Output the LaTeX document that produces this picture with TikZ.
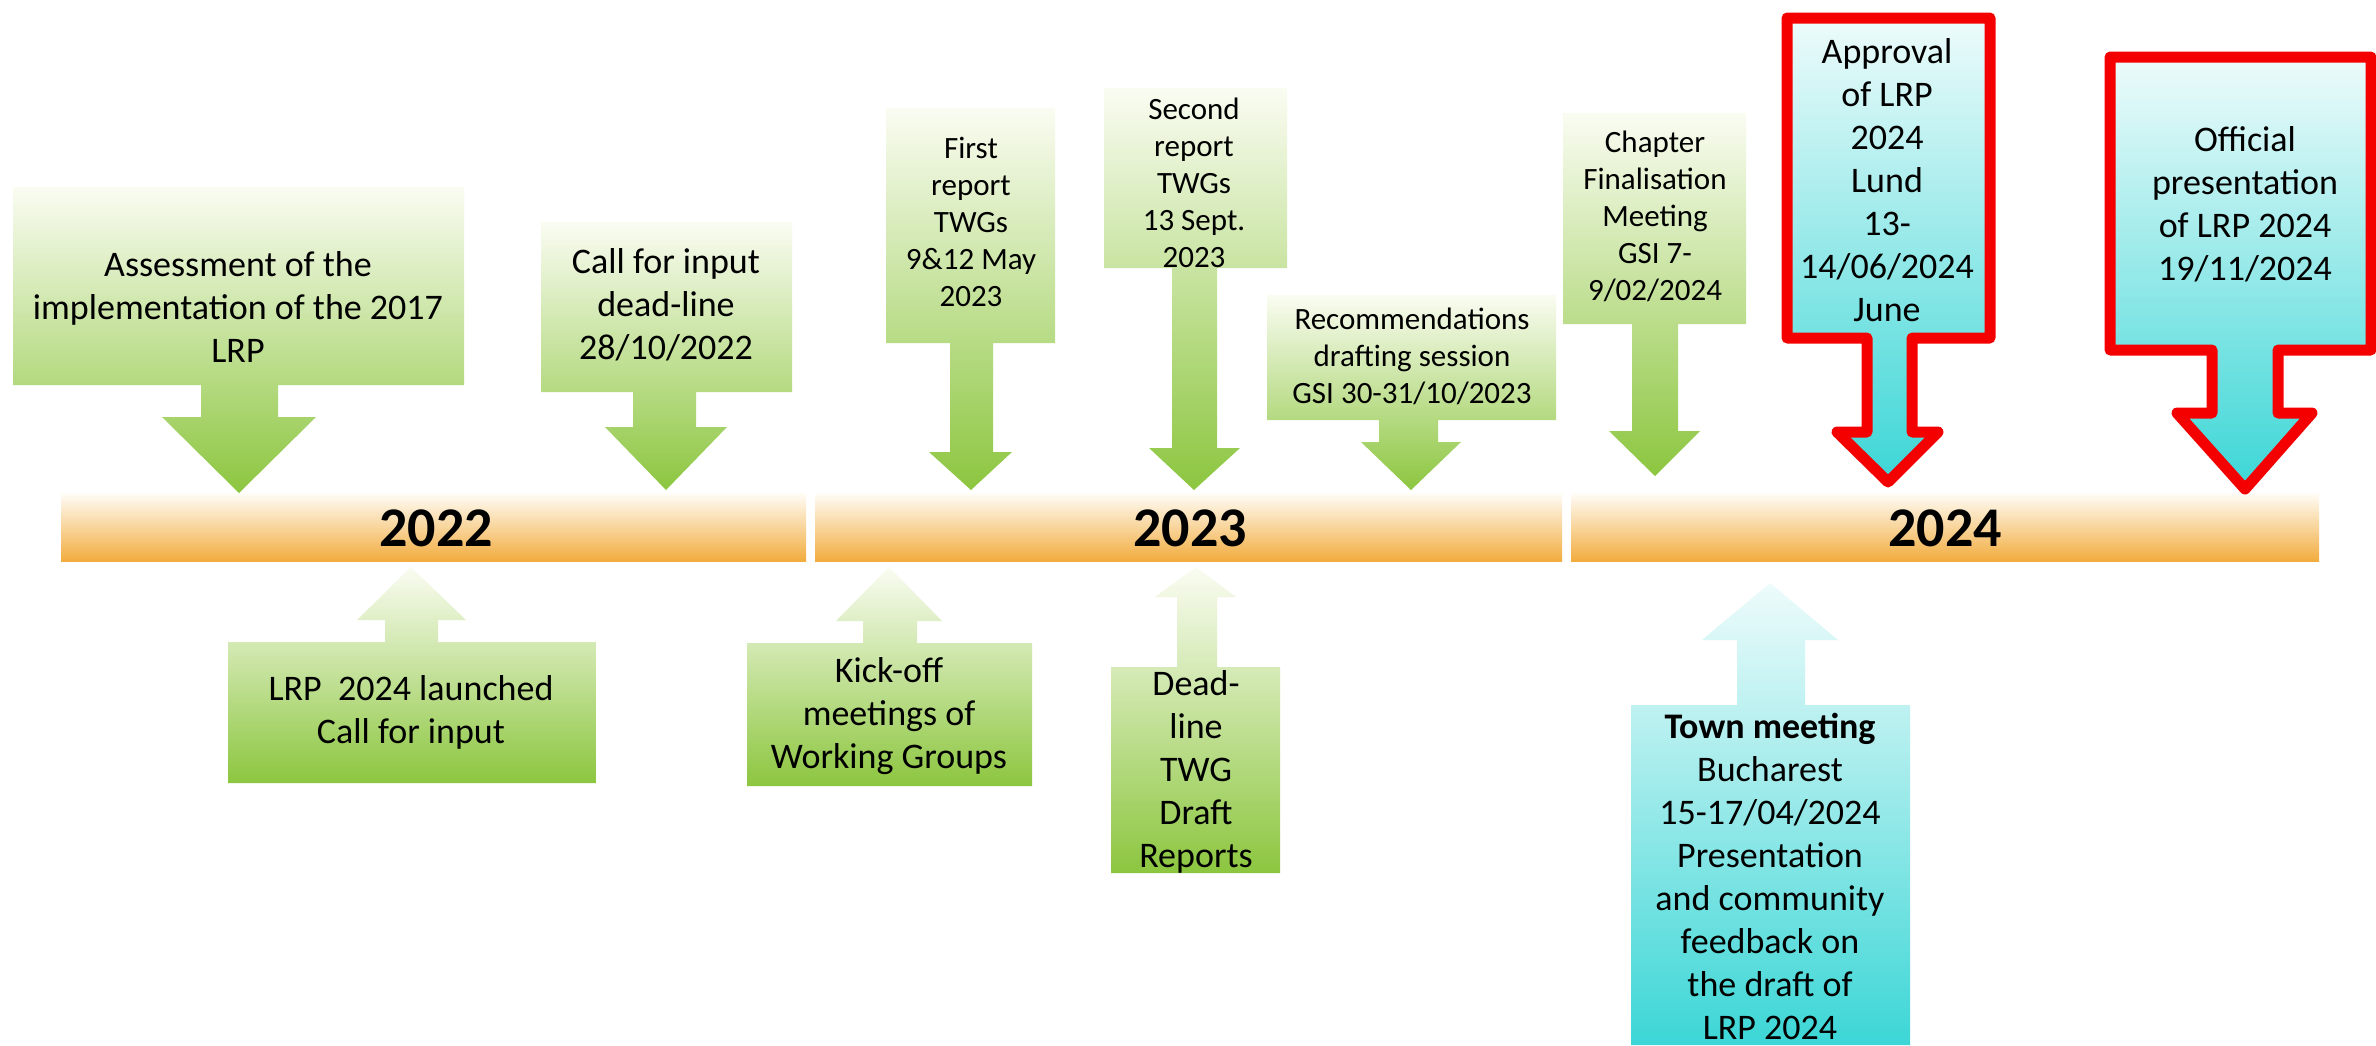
\documentclass[tikz,border=0pt]{standalone}
\usepackage{fontspec}
\setmainfont{Carlito}
\definecolor{gTop}{RGB}{250,252,242}
\definecolor{gBot}{RGB}{140,198,63}
\definecolor{cTop}{RGB}{238,251,251}
\definecolor{cBot}{RGB}{60,214,214}
\definecolor{oTop}{RGB}{255,253,248}
\definecolor{oBot}{RGB}{242,172,62}
\definecolor{redb}{RGB}{245,0,0}
\tikzset{
  greenshape/.style={top color=gTop, bottom color=gBot},
  cyanshape/.style={top color=cTop, bottom color=cBot},
  barshape/.style={top color=oTop, bottom color=oBot},
  redborder/.style={draw=redb, line width=5.5pt, line join=round},
  lbl/.style={align=center, inner sep=0pt, font=\fontsize{18}{21.5}\selectfont},
  lblsm/.style={align=center, inner sep=0pt, font=\fontsize{15.5}{18.5}\selectfont},
  yearlbl/.style={inner sep=0pt, font=\bfseries\fontsize{28}{30}\selectfont},
}
\begin{document}
\begin{tikzpicture}[x=0.5pt,y=-0.5pt]
\useasboundingbox (0,0) rectangle (2376,1045);
\fill[white] (0,0) rectangle (2376,1045);

% timeline bars
\shade[barshape] (61,493) rectangle (806,561);
\shade[barshape] (815,493) rectangle (1562,561);
\shade[barshape] (1571,493) rectangle (2319,561);
\node[yearlbl] (y2022) at (436,528) {2022};
\node[yearlbl] (y2023) at (1190,528) {2023};
\node[yearlbl] (y2024) at (1945,528) {2024};

% green down arrows
\shade[greenshape] (13,187) -- (464,187) -- (464,385) -- (278,385) -- (278,417) -- (316,417) -- (239,493) -- (162,417) -- (201,417) -- (201,385) -- (13,385) -- cycle;
\shade[greenshape] (541,222) -- (792,222) -- (792,392) -- (696,392) -- (696,427) -- (727,427) -- (666,490) -- (605,427) -- (633,427) -- (633,392) -- (541,392) -- cycle;
\shade[greenshape] (886,108) -- (1055,108) -- (1055,343) -- (993,343) -- (993,452) -- (1012,452) -- (971,490) -- (929,452) -- (950,452) -- (950,343) -- (886,343) -- cycle;
\shade[greenshape] (1104,88) -- (1287,88) -- (1287,268) -- (1217,268) -- (1217,448) -- (1240,448) -- (1194,490) -- (1149,448) -- (1172,448) -- (1172,268) -- (1104,268) -- cycle;
\shade[greenshape] (1267,295) -- (1556,295) -- (1556,420) -- (1438,420) -- (1438,442) -- (1461,442) -- (1411,490) -- (1361,442) -- (1379,442) -- (1379,420) -- (1267,420) -- cycle;
\shade[greenshape] (1563,113) -- (1746,113) -- (1746,324) -- (1678,324) -- (1678,431) -- (1700,431) -- (1655,476) -- (1609,431) -- (1632,431) -- (1632,324) -- (1563,324) -- cycle;

% red-bordered cyan down arrows
\shade[cyanshape] (1787,18) -- (1990,18) -- (1990,338) -- (1912,338) -- (1912,432) -- (1938,432) -- (1888,482) -- (1837,432) -- (1867,432) -- (1867,338) -- (1787,338) -- cycle;
\draw[redborder] (1787,18) -- (1990,18) -- (1990,338) -- (1912,338) -- (1912,432) -- (1938,432) -- (1888,482) -- (1837,432) -- (1867,432) -- (1867,338) -- (1787,338) -- cycle;
\shade[cyanshape] (2110,57) -- (2371,57) -- (2371,350) -- (2278,350) -- (2278,413) -- (2312,413) -- (2245,489) -- (2177,413) -- (2212,413) -- (2212,350) -- (2110,350) -- cycle;
\draw[redborder] (2110,57) -- (2371,57) -- (2371,350) -- (2278,350) -- (2278,413) -- (2312,413) -- (2245,489) -- (2177,413) -- (2212,413) -- (2212,350) -- (2110,350) -- cycle;

% green up arrows
\shade[greenshape] (228,783) -- (228,642) -- (385,642) -- (385,620) -- (357,620) -- (411,567) -- (466,620) -- (438,620) -- (438,642) -- (596,642) -- (596,783) -- cycle;
\shade[greenshape] (747,786) -- (747,643) -- (863,643) -- (863,621) -- (836,621) -- (889,567) -- (942,621) -- (917,621) -- (917,643) -- (1032,643) -- (1032,786) -- cycle;
\shade[greenshape] (1111,873) -- (1111,667) -- (1177,667) -- (1177,597) -- (1155,597) -- (1196,567) -- (1236,597) -- (1217,597) -- (1217,667) -- (1280,667) -- (1280,873) -- cycle;

% cyan up arrow
\shade[cyanshape] (1631,1045) -- (1631,705) -- (1737,705) -- (1737,640) -- (1702,640) -- (1770,583) -- (1838,640) -- (1805,640) -- (1805,705) -- (1910,705) -- (1910,1045) -- cycle;

% labels
\node[lbl] (assess) at (238,307) {Assessment of the\\implementation of the 2017\\LRP};
\node[lbl] (callin) at (666,305) {Call for input\\dead-line\\28/10/2022};
\node[lblsm] (first) at (971,222) {First\\report\\TWGs\\9\&12 May\\2023};
\node[lblsm] (second) at (1194,183) {Second\\report\\TWGs\\13 Sept.\\2023};
\node[lblsm] (recom) at (1412,356) {Recommendations\\drafting session\\GSI 30-31/10/2023};
\node[lblsm] (chapter) at (1655,216) {Chapter\\Finalisation\\Meeting\\GSI 7-\\9/02/2024};
\node[lbl] (approval) at (1887,180) {Approval\\of LRP\\2024\\Lund\\13-\\14/06/2024\\June};
\node[lbl] (official) at (2245,204) {Official\\presentation\\of LRP 2024\\19/11/2024};
\node[lbl] (launch) at (411,712) {LRP\ \ 2024 launched\\Call for input};
\node[lbl] (kickoff) at (889,716) {Kick-off\\meetings of\\Working Groups};
\node[lbl] (deadline) at (1196,772) {Dead-\\line\\TWG\\Draft\\Reports};
\node[lbl] (town) at (1770,876) {\textbf{Town meeting}\\Bucharest\\15-17/04/2024\\Presentation\\and community\\feedback on\\the draft of\\LRP 2024};
\end{tikzpicture}
\end{document}
